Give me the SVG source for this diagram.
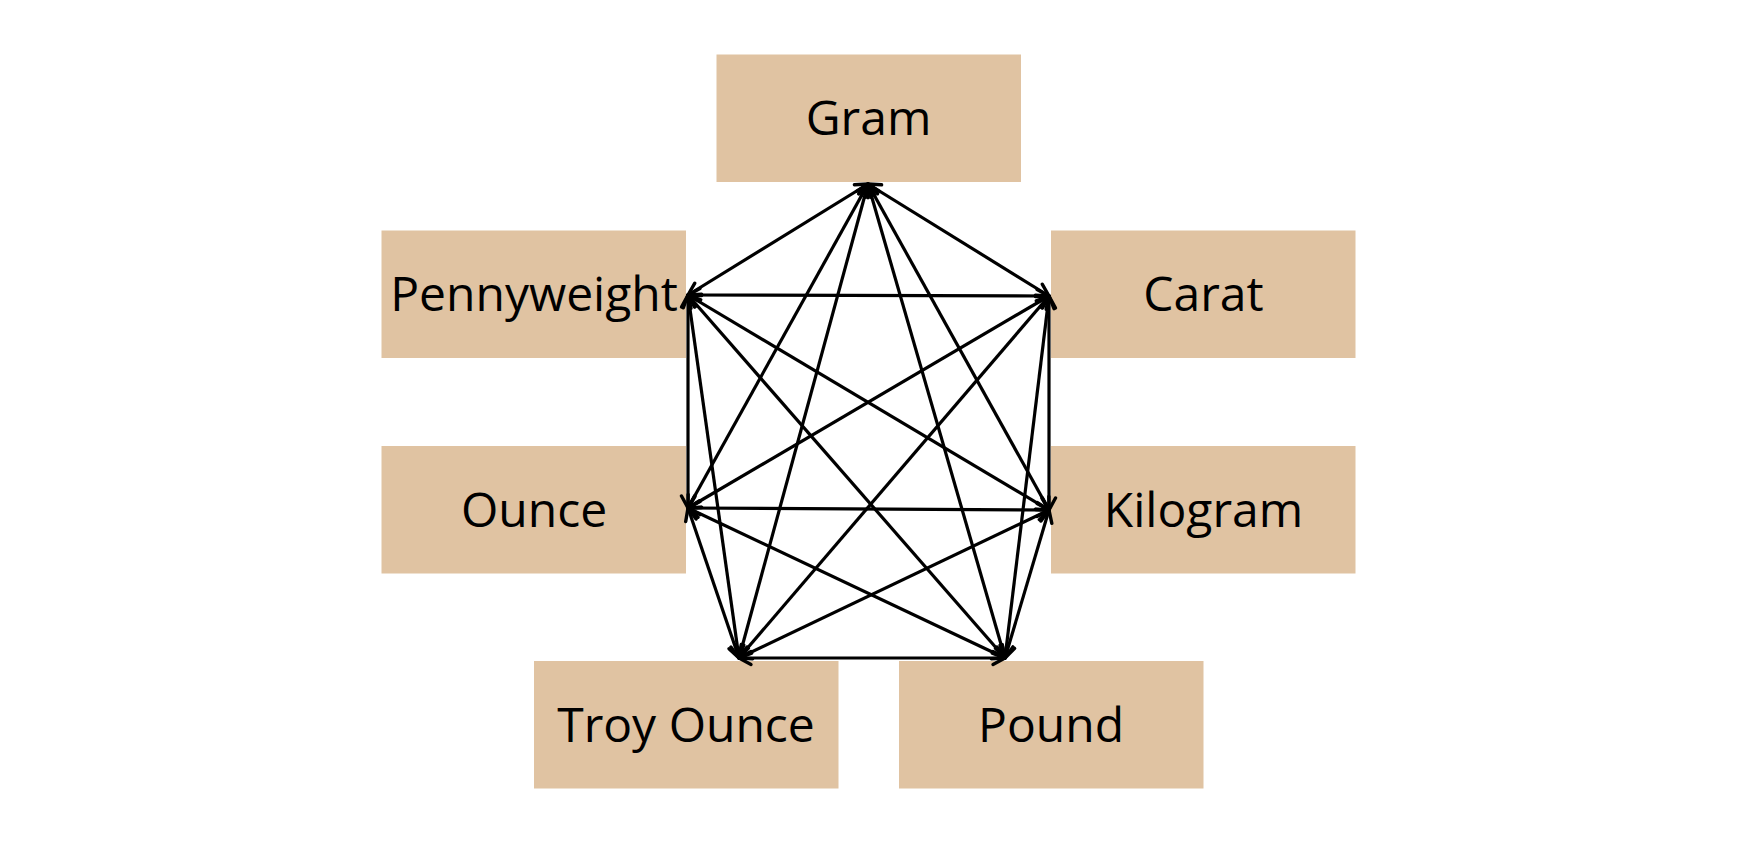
<svg xmlns="http://www.w3.org/2000/svg" width="1737" height="858" viewBox="0 0 1737 858">
<style>
.box{fill:#E0C3A2}
.lbl{font-family:"Open Sans","Noto Sans","Liberation Sans",sans-serif;font-size:48px;fill:#000;text-anchor:middle}
.edge{stroke:#000;stroke-width:3.2;fill:none;marker-start:url(#arr);marker-end:url(#arr)}
</style>
<defs>
<marker id="arr" viewBox="-16 -10 20 20" refX="0" refY="0" markerWidth="20" markerHeight="20" markerUnits="userSpaceOnUse" orient="auto-start-reverse">
<path d="M-12,-6.5 L0,0 L-12,6.5" fill="none" stroke="#000" stroke-width="3.4" stroke-linecap="round" stroke-linejoin="round"/>
</marker>
</defs>
<rect width="1737" height="858" fill="#fff"/>
<g id="gram"><rect class="box" x="716.5" y="54.5" width="304.5" height="127.5"/><text class="lbl" x="868.5" y="135">Gram</text></g>
<g id="pennyweight"><rect class="box" x="381.5" y="230.5" width="304.5" height="127.5"/><text class="lbl" x="534" y="311">Pennyweight</text></g>
<g id="carat"><rect class="box" x="1051" y="230.5" width="304.5" height="127.5"/><text class="lbl" x="1203.5" y="311">Carat</text></g>
<g id="ounce"><rect class="box" x="381.5" y="446" width="304.5" height="127.5"/><text class="lbl" x="534" y="527">Ounce</text></g>
<g id="kilogram"><rect class="box" x="1051" y="446" width="304.5" height="127.5"/><text class="lbl" x="1203.5" y="527">Kilogram</text></g>
<g id="troy-ounce"><rect class="box" x="534" y="661" width="304.5" height="127.5"/><text class="lbl" x="686" y="742">Troy Ounce</text></g>
<g id="pound"><rect class="box" x="899" y="661" width="304.5" height="127.5"/><text class="lbl" x="1051" y="742">Pound</text></g>
<g id="connectors">
<line class="edge" x1="868" y1="184" x2="688" y2="295"/>
<line class="edge" x1="868" y1="184" x2="1049" y2="296"/>
<line class="edge" x1="868" y1="184" x2="688" y2="508"/>
<line class="edge" x1="868" y1="184" x2="1049" y2="510"/>
<line class="edge" x1="868" y1="184" x2="739" y2="658"/>
<line class="edge" x1="868" y1="184" x2="1005" y2="658"/>
<line class="edge" x1="688" y1="295" x2="1049" y2="296"/>
<line class="edge" x1="688" y1="295" x2="688" y2="508"/>
<line class="edge" x1="688" y1="295" x2="1049" y2="510"/>
<line class="edge" x1="688" y1="295" x2="739" y2="658"/>
<line class="edge" x1="688" y1="295" x2="1005" y2="658"/>
<line class="edge" x1="1049" y1="296" x2="688" y2="508"/>
<line class="edge" x1="1049" y1="296" x2="1049" y2="510"/>
<line class="edge" x1="1049" y1="296" x2="739" y2="658"/>
<line class="edge" x1="1049" y1="296" x2="1005" y2="658"/>
<line class="edge" x1="688" y1="508" x2="1049" y2="510"/>
<line class="edge" x1="688" y1="508" x2="739" y2="658"/>
<line class="edge" x1="688" y1="508" x2="1005" y2="658"/>
<line class="edge" x1="1049" y1="510" x2="739" y2="658"/>
<line class="edge" x1="1049" y1="510" x2="1005" y2="658"/>
<line class="edge" x1="739" y1="658" x2="1005" y2="658"/>
</g>
</svg>
